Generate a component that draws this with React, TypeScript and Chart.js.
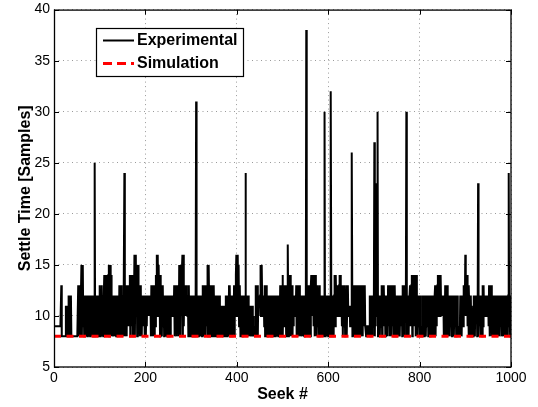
import React, { useEffect, useRef } from "react";
import { Chart, registerables } from "chart.js";

Chart.register(...registerables);

// Experimental settle time per seek (seek 0..999)
const seg0 = [
  9, 9, 9, 9, 9, 9, 9, 9, 9, 9,
  9, 9, 9, 9, 9, 9, 13, 8, 8, 8,
  8, 8, 8, 8, 8, 8, 11, 8, 11, 9,
  10, 8, 12, 8, 12, 9, 11, 12, 8, 8,
  8, 8, 8, 8, 8, 8, 8, 8, 8, 8,
  8, 8, 8, 13, 8, 12, 9, 13, 8, 11,
  15, 8, 13, 15, 9, 12, 8, 12, 10, 8,
  12, 9, 12, 8, 11, 12, 8, 12, 9, 8,
  12, 10, 8, 12, 9, 12, 8, 11, 8, 25,
  8, 12, 9, 12, 8, 11, 12, 8, 12, 9,
];
const seg1 = [
  13, 8, 12, 9, 13, 8, 11, 12, 8, 12,
  14, 8, 12, 9, 14, 8, 13, 10, 8, 14,
  15, 8, 12, 15, 9, 14, 8, 12, 12, 8,
  11, 9, 12, 8, 12, 10, 8, 12, 9, 11,
  8, 12, 8, 13, 9, 12, 8, 13, 8, 12,
  9, 11, 8, 12, 24, 8, 13, 9, 12, 8,
  13, 10, 13, 9, 12, 10, 14, 8, 12, 14,
  9, 13, 14, 8, 12, 9, 16, 8, 14, 16,
  10, 15, 8, 13, 15, 9, 13, 8, 12, 13,
  9, 12, 8, 11, 9, 12, 10, 12, 8, 11,
];
const seg2 = [
  12, 8, 11, 9, 12, 10, 12, 10, 11, 12,
  10, 12, 8, 13, 9, 12, 8, 13, 10, 12,
  8, 13, 9, 14, 10, 16, 11, 16, 10, 15,
  11, 13, 8, 14, 9, 13, 8, 12, 13, 9,
  12, 8, 12, 9, 11, 8, 12, 10, 8, 12,
  9, 12, 8, 11, 12, 8, 12, 10, 12, 10,
  11, 12, 10, 13, 8, 12, 9, 13, 8, 11,
  13, 9, 12, 8, 15, 9, 13, 8, 15, 10,
  14, 16, 8, 16, 9, 13, 10, 12, 10, 13,
  11, 12, 10, 12, 8, 13, 9, 12, 8, 12,
];
const seg3 = [
  9, 12, 8, 11, 12, 8, 12, 9, 11, 8,
  12, 31, 8, 12, 9, 12, 8, 11, 12, 9,
  12, 8, 10, 12, 8, 13, 9, 12, 8, 13,
  10, 12, 8, 13, 9, 11, 15, 8, 13, 15,
  9, 12, 8, 13, 10, 12, 8, 13, 9, 11,
  13, 8, 12, 9, 12, 8, 11, 12, 9, 12,
  8, 10, 12, 8, 11, 9, 11, 8, 10, 11,
  8, 11, 9, 10, 11, 8, 12, 9, 12, 8,
  11, 12, 8, 13, 9, 13, 8, 12, 10, 12,
  8, 11, 12, 9, 13, 8, 13, 10, 14, 16,
];
const seg4 = [
  14, 10, 16, 11, 15, 9, 12, 13, 8, 12,
  9, 12, 8, 11, 12, 8, 12, 9, 12, 24,
  8, 12, 9, 11, 8, 12, 9, 11, 8, 11,
  10, 8, 11, 9, 11, 8, 10, 8, 9, 8,
  9, 13, 8, 12, 9, 13, 8, 12, 10, 12,
  11, 12, 15, 10, 13, 15, 10, 12, 11, 12,
  9, 13, 8, 12, 13, 9, 12, 8, 11, 12,
  9, 12, 8, 12, 10, 8, 12, 9, 11, 12,
  8, 12, 9, 12, 8, 11, 12, 8, 12, 10,
  12, 8, 11, 12, 9, 13, 8, 13, 10, 12,
];
const seg5 = [
  14, 8, 12, 13, 9, 13, 10, 12, 8, 13,
  9, 12, 17, 8, 14, 9, 12, 14, 8, 13,
  10, 13, 8, 12, 9, 12, 10, 11, 12, 10,
  13, 8, 12, 13, 9, 12, 8, 13, 10, 12,
  8, 12, 9, 11, 8, 12, 9, 12, 8, 11,
  12, 9, 38, 8, 13, 9, 12, 8, 13, 10,
  12, 8, 13, 14, 10, 14, 11, 13, 9, 14,
  8, 12, 14, 9, 13, 8, 12, 13, 9, 12,
  8, 13, 10, 12, 8, 12, 9, 11, 8, 12,
  9, 8, 30, 8, 12, 9, 12, 8, 11, 12,
];
const seg6 = [
  8, 12, 9, 12, 8, 11, 32, 8, 12, 9,
  12, 8, 11, 12, 14, 9, 12, 14, 10, 13,
  11, 13, 10, 12, 13, 14, 10, 14, 11, 12,
  9, 13, 8, 12, 13, 9, 13, 8, 12, 10,
  13, 8, 12, 13, 10, 11, 10, 11, 9, 11,
  10, 9, 26, 8, 12, 13, 9, 13, 8, 12,
  13, 9, 12, 8, 13, 10, 12, 8, 13, 9,
  13, 8, 12, 10, 13, 8, 12, 13, 9, 12,
  13, 9, 9, 8, 9, 9, 8, 9, 9, 8,
  9, 12, 8, 12, 9, 11, 12, 8, 12, 9,
];
const seg7 = [
  12, 27, 8, 12, 9, 23, 23, 10, 30, 8,
  12, 9, 12, 8, 11, 12, 9, 13, 8, 12,
  13, 9, 13, 10, 12, 8, 12, 9, 11, 12,
  8, 13, 9, 12, 13, 8, 13, 10, 12, 8,
  13, 9, 12, 13, 8, 12, 13, 9, 12, 8,
  11, 12, 9, 12, 8, 10, 12, 8, 12, 9,
  11, 12, 8, 13, 9, 12, 13, 8, 12, 10,
  12, 30, 8, 12, 9, 12, 8, 11, 12, 13,
  9, 12, 13, 14, 8, 13, 14, 9, 13, 10,
  14, 8, 12, 14, 9, 12, 8, 11, 12, 9,
];
const seg8 = [
  12, 8, 12, 9, 8, 9, 8, 12, 9, 12,
  8, 12, 10, 12, 8, 11, 12, 9, 12, 8,
  12, 10, 11, 8, 12, 9, 12, 8, 12, 10,
  12, 8, 11, 12, 13, 8, 13, 9, 12, 13,
  14, 10, 14, 11, 13, 10, 14, 11, 12, 10,
  12, 11, 12, 8, 12, 9, 13, 8, 12, 13,
  9, 13, 8, 12, 9, 12, 8, 11, 12, 9,
  12, 8, 12, 10, 12, 8, 11, 12, 9, 12,
  8, 12, 10, 12, 8, 9, 8, 9, 8, 12,
  9, 12, 8, 11, 12, 9, 13, 10, 13, 11,
];
const seg9 = [
  16, 10, 14, 11, 14, 9, 13, 8, 13, 10,
  12, 8, 12, 9, 11, 8, 10, 8, 12, 9,
  12, 8, 12, 10, 11, 12, 8, 9, 23, 8,
  12, 9, 11, 12, 8, 12, 9, 8, 13, 9,
  13, 10, 12, 10, 11, 12, 10, 11, 12, 10,
  12, 9, 13, 8, 12, 13, 9, 13, 8, 12,
  9, 12, 8, 11, 12, 9, 12, 8, 12, 10,
  11, 8, 12, 9, 12, 8, 11, 12, 9, 12,
  8, 12, 10, 12, 8, 11, 12, 9, 12, 8,
  12, 10, 12, 8, 12, 24, 9, 12, 8, 12,
];

const experimental = [
  ...seg0, ...seg1, ...seg2, ...seg3, ...seg4,
  ...seg5, ...seg6, ...seg7, ...seg8, ...seg9,
];
const seekNumbers = experimental.map((_, i) => i);

const simulationSeek = [0, 1000];
const simulationValues = [8, 8];

const xTicks = [0, 200, 400, 600, 800, 1000];
const yTicks = [5, 10, 15, 20, 25, 30, 35, 40];

const seriesLabels = ["Experimental", "Simulation"];
const xTitle = "Seek #";
const yTitle = "Settle Time [Samples]";

const FONT = '"Liberation Sans", Arial, Helvetica, sans-serif';

const framePlugin = {
  id: "frameAndLegend",
  afterDatasetsDraw(chart: any) {
    const { ctx, chartArea: a, scales } = chart;
    ctx.save();
    ctx.strokeStyle = "#000";
    ctx.lineWidth = 1;
    ctx.setLineDash([]);
    ctx.beginPath();
    const tl = 5;
    for (const v of xTicks) {
      const x = Math.round(scales.x.getPixelForValue(v)) + 0.5;
      ctx.moveTo(x, a.bottom);
      ctx.lineTo(x, a.bottom - tl);
      ctx.moveTo(x, a.top);
      ctx.lineTo(x, a.top + tl);
    }
    for (const v of yTicks) {
      const y = Math.round(scales.y.getPixelForValue(v)) + 0.5;
      ctx.moveTo(a.left, y);
      ctx.lineTo(a.left + tl, y);
      ctx.moveTo(a.right, y);
      ctx.lineTo(a.right - tl, y);
    }
    ctx.stroke();
    ctx.lineWidth = 1.3;
    ctx.strokeRect(a.left + 0.5, a.top + 0.5, a.right - a.left - 0.5, a.bottom - a.top - 0.5);

    // legend box
    const bx = 96.5, by = 28.5, bw = 147, bh = 48;
    ctx.fillStyle = "#fff";
    ctx.fillRect(bx, by, bw, bh);
    ctx.lineWidth = 1.2;
    ctx.strokeStyle = "#000";
    ctx.strokeRect(bx, by, bw, bh);

    const y1 = 40.5, y2 = 63.5;
    ctx.beginPath();
    ctx.lineWidth = 2;
    ctx.strokeStyle = "#000";
    ctx.moveTo(103, y1);
    ctx.lineTo(134, y1);
    ctx.stroke();

    ctx.beginPath();
    ctx.lineWidth = 3;
    ctx.strokeStyle = "#ff0000";
    ctx.setLineDash([9, 5]);
    ctx.moveTo(103, y2);
    ctx.lineTo(134, y2);
    ctx.stroke();
    ctx.setLineDash([]);

    ctx.fillStyle = "#000";
    ctx.font = `bold 16px ${FONT}`;
    ctx.textBaseline = "middle";
    ctx.textAlign = "left";
    ctx.fillText(seriesLabels[0], 137, y1 + 0.5);
    ctx.fillText(seriesLabels[1], 137, y2 + 0.5);
    ctx.restore();
  },
};

export default function App() {
  const ref = useRef<HTMLCanvasElement | null>(null);

  useEffect(() => {
    document.body.style.margin = "0";
    const canvas = ref.current;
    if (!canvas) return;
    const chart = new Chart(canvas, {
      type: "line",
      data: {
        datasets: [
          {
            label: seriesLabels[0],
            data: seekNumbers.map((x, i) => ({ x, y: experimental[i] })),
            borderColor: "#000000",
            borderWidth: 2,
            pointRadius: 0,
            tension: 0,
            order: 1,
          },
          {
            label: seriesLabels[1],
            data: simulationSeek.map((x, i) => ({ x, y: simulationValues[i] })),
            borderColor: "#ff0000",
            borderWidth: 3,
            borderDash: [7, 5.5],
            pointRadius: 0,
            tension: 0,
            order: 0,
          },
        ],
      },
      options: {
        responsive: false,
        animation: false,
        devicePixelRatio: 1,
        layout: { padding: { top: 6, right: 27, left: 0, bottom: 0 } },
        plugins: { legend: { display: false }, tooltip: { enabled: false } },
        scales: {
          x: {
            type: "linear",
            min: 0,
            max: 1000,
            afterBuildTicks: (s: any) => {
              s.ticks = xTicks.map((v) => ({ value: v }));
            },
            afterFit: (s: any) => {
              s.height = 40;
            },
            ticks: {
              color: "#000",
              padding: 3,
              maxRotation: 0,
              font: { family: FONT, size: 14 },
              callback: (v: any) => String(v),
            },
            grid: { color: "#9a9a9a", drawTicks: false, lineWidth: 1 },
            border: { display: false, dash: [1, 3.5] },
            title: {
              display: true,
              text: xTitle,
              color: "#000",
              font: { family: FONT, size: 16, weight: "bold" },
              padding: { top: 0, bottom: 3 },
            },
          },
          y: {
            type: "linear",
            min: 5,
            max: 40,
            afterBuildTicks: (s: any) => {
              s.ticks = yTicks.map((v) => ({ value: v }));
            },
            afterFit: (s: any) => {
              s.width = 54;
            },
            ticks: {
              color: "#000",
              padding: 4,
              font: { family: FONT, size: 14, lineHeight: 0.8 },
              callback: (v: any) => String(v),
            },
            grid: { color: "#9a9a9a", drawTicks: false, lineWidth: 1 },
            border: { display: false, dash: [1, 3.5] },
            title: {
              display: true,
              text: yTitle,
              color: "#000",
              font: { family: FONT, size: 16, weight: "bold" },
              padding: { top: 16, bottom: 0 },
            },
          },
        },
      },
      plugins: [framePlugin],
    } as any);
    return () => chart.destroy();
  }, []);

  return (
    <div style={{ position: "absolute", left: 0, top: 0, width: 538, height: 407, background: "#fff" }}>
      <canvas ref={ref} width={538} height={407} style={{ width: 538, height: 407, display: "block" }} />
    </div>
  );
}
